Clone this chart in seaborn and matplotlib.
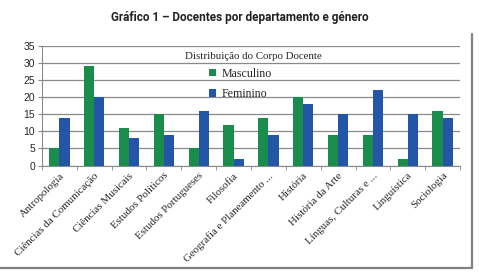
import matplotlib
matplotlib.use("Agg")
import matplotlib.pyplot as plt
from matplotlib.lines import Line2D
import pandas as pd
import seaborn as sns

departamentos = ["Antropologia", "Ciências da Comunicação", "Ciências Musicais",
                 "Estudos Políticos", "Estudos Portugueses", "Filosofia",
                 "Geografia e Planeamento ...", "História", "História da Arte",
                 "Línguas, Culturas e ...", "Linguística", "Sociologia"]
masculino = [5, 29, 11, 15, 5, 12, 14, 20, 9, 9, 2, 16]
feminino = [14, 20, 8, 9, 16, 2, 9, 18, 15, 22, 15, 14]
generos = ["Masculino", "Feminino"]
cores = ["#1a8c4c", "#2356a6"]

df = pd.DataFrame({
    "Departamento": departamentos * 2,
    "Docentes": masculino + feminino,
    "Género": [generos[0]] * len(departamentos) + [generos[1]] * len(departamentos),
})

sns.set_style("white")
fig = plt.figure(figsize=(4.79, 2.80), dpi=100)
ax = fig.add_axes([42 / 479, 1 - 165.5 / 280, (460 - 42) / 479, (165.5 - 46) / 280])

sns.barplot(data=df, x="Departamento", y="Docentes", hue="Género",
            palette=cores, width=0.58, saturation=1, linewidth=0, ax=ax, zorder=3)

ax.set_ylim(0, 35)
ax.set_yticks(range(0, 36, 5))
ax.set_xlim(-0.5, len(departamentos) - 0.5)
ax.yaxis.grid(True, color="#8a8a8a", linewidth=0.9, zorder=0)
ax.set_xlabel("")
ax.set_ylabel("")
for s in ["top", "right"]:
    ax.spines[s].set_visible(False)
ax.spines["left"].set_color("#8a8a8a")
ax.spines["bottom"].set_color("#8a8a8a")
ax.tick_params(axis="y", labelsize=7.5, length=3, color="#8a8a8a", left=True, pad=2)
for t in ax.get_yticklabels():
    t.set_family("Liberation Sans")

# ticks on bottom between categories
ax.set_xticks([i for i in range(len(departamentos))])
ax.set_xticks([i - 0.5 for i in range(len(departamentos) + 1)], minor=True)
ax.tick_params(axis="x", which="major", length=0, pad=4)
ax.tick_params(axis="x", which="minor", length=3, color="#8a8a8a", bottom=True)
ax.set_xticklabels(departamentos, rotation=45, ha="right", rotation_mode="anchor",
                   fontsize=7.8, family="Liberation Serif")

# legend: title as separate text, entries offset to the right
ax.text(0.505, 0.916, "Distribuição do Corpo Docente", transform=ax.transAxes,
        ha="center", va="center", fontsize=7.8, family="Liberation Serif")
leg = ax.legend(title=None, frameon=False, loc="upper left",
                bbox_to_anchor=(0.4, 0.82), borderaxespad=0, borderpad=0,
                prop={"family": "Liberation Serif", "size": 8.6},
                handlelength=0.6, handleheight=0.6, handletextpad=0.4,
                labelspacing=0.72)

fig.text(0.5, 1 - 17 / 280, "Gráfico 1 – Docentes por departamento e género",
         ha="center", va="center", fontsize=8.5, fontweight="bold",
         family="Roboto", color="#222222")

# border of chart
fig.add_artist(Line2D([472 / 479, 472 / 479], [1 - 34 / 280, 1 - 268 / 280],
                      color="#808080", linewidth=1.6))
fig.add_artist(Line2D([0, 472 / 479], [1 - 268 / 280, 1 - 268 / 280],
                      color="#808080", linewidth=1.6))

fig.savefig("out.png", dpi=100)
